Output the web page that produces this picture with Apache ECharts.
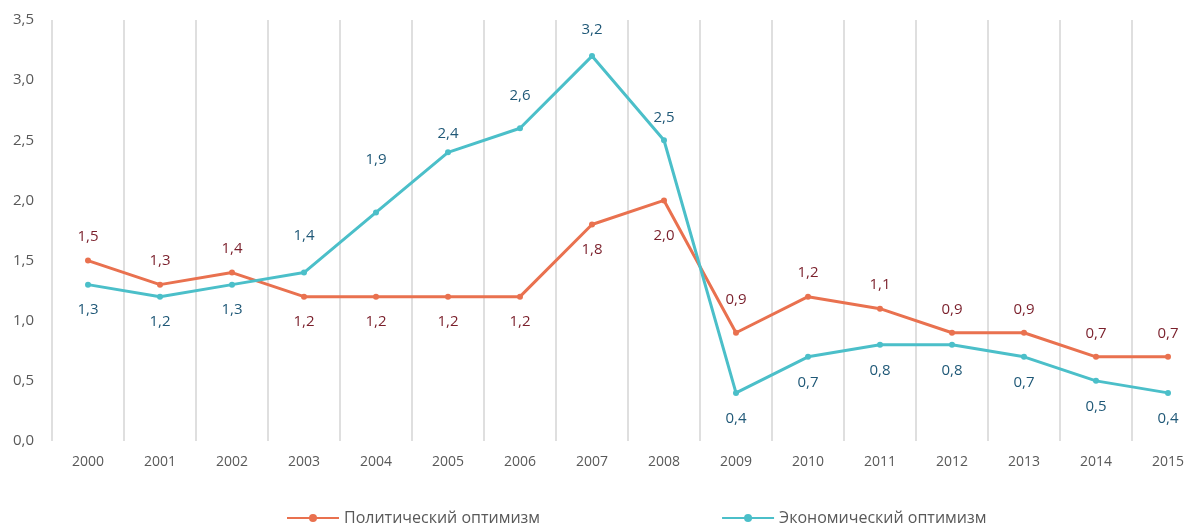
<!DOCTYPE html>
<html><head><meta charset="utf-8">
<script src="https://cdn.jsdelivr.net/npm/echarts@6/dist/echarts.min.js"></script>
<style>html,body{margin:0;padding:0;background:#fff;overflow:hidden}#c{width:1210px;height:525px}</style>
</head><body><div id="c"></div>
<script>
const years = ['2000','2001','2002','2003','2004','2005','2006','2007','2008','2009','2010','2011','2012','2013','2014','2015'];
const political = [1.5,1.3,1.4,1.2,1.2,1.2,1.2,1.8,2.0,0.9,1.2,1.1,0.9,0.9,0.7,0.7];
const economic = [1.3,1.2,1.3,1.4,1.9,2.4,2.6,3.2,2.5,0.4,0.7,0.8,0.8,0.7,0.5,0.4];
const politicalName = 'Политический оптимизм';
const economicName = 'Экономический оптимизм';

// label placement (style, not data)
const polPos = ['top','top','top','bottom','bottom','bottom','bottom','bottom','bottom','top','top','top','top','top','top','top'];
const ecoPos = ['bottom','bottom','bottom','top','top','top','top','top','top','bottom','bottom','bottom','bottom','bottom','bottom','bottom'];
const polDist = [13,13,13,15,15,15,15,15,25,23,13,13,13,13,13,13];
const ecoDist = [15,15,15,26,42,8,22,16,12,15,15,15,15,15,15,15];

const fmt = v => v.toFixed(1).replace('.', ',');
const font = '"Open Sans", "Noto Sans", sans-serif';

function build(vals, pos, dist) {
  return vals.map((v, i) => ({
    value: v,
    label: { position: pos[i], distance: dist[i] }
  }));
}

const chart = echarts.init(document.getElementById('c'));
chart.setOption({
  animation: false,
  textStyle: { fontFamily: font },
  grid: { left: 52, width: 1152, top: 20, bottom: 84 },
  legend: {
    top: 505, left: 281, itemGap: 181, itemWidth: 52, itemHeight: 10,
    textStyle: { fontSize: 16, color: '#595959', fontFamily: font },
    data: [politicalName, economicName]
  },
  xAxis: {
    type: 'category', data: years, boundaryGap: true,
    axisLine: { show: false }, axisTick: { show: false },
    axisLabel: { color: '#595959', fontSize: 14, margin: 14 },
    splitLine: { show: true, lineStyle: { color: '#d4d4d4', width: 1.5 } }
  },
  yAxis: {
    type: 'value', min: 0, max: 3.5, interval: 0.5,
    axisLine: { show: false }, axisTick: { show: false },
    splitLine: { show: false },
    axisLabel: { color: '#595959', fontSize: 15, margin: 18, formatter: v => fmt(v) }
  },
  series: [
    {
      name: politicalName, type: 'line', data: build(political, polPos, polDist),
      color: '#E9714F', symbol: 'circle', symbolSize: 6,
      lineStyle: { width: 3, color: '#E9714F' }, itemStyle: { color: '#E9714F' },
      label: { show: true, color: '#7A1F2B', fontSize: 15, formatter: p => fmt(p.value) }
    },
    {
      name: economicName, type: 'line', data: build(economic, ecoPos, ecoDist),
      color: '#4BBFC9', symbol: 'circle', symbolSize: 6,
      lineStyle: { width: 3, color: '#4BBFC9' }, itemStyle: { color: '#4BBFC9' },
      label: { show: true, color: '#1F5877', fontSize: 15, formatter: p => fmt(p.value) }
    }
  ]
});
</script></body></html>
